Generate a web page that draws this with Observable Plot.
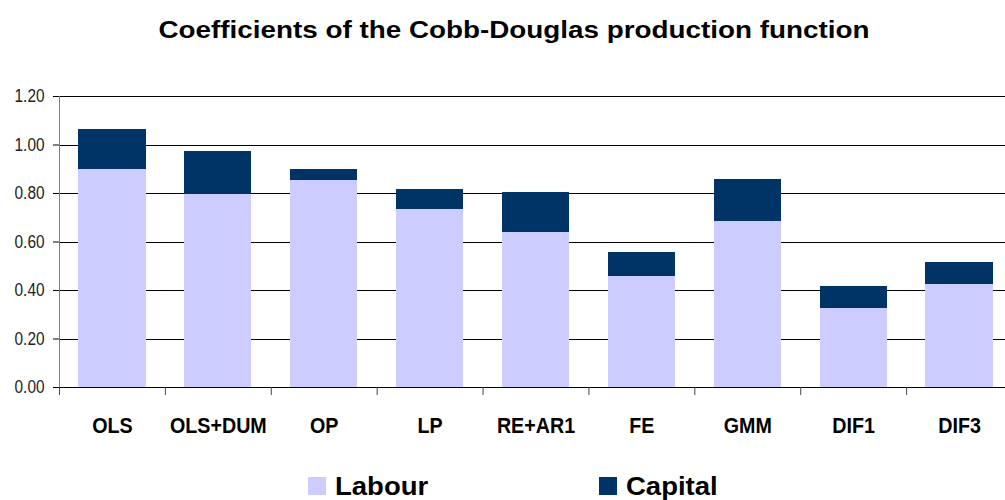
<!DOCTYPE html>
<html>
<head>
<meta charset="utf-8">
<script src="https://cdn.jsdelivr.net/npm/d3@7"></script>
<script src="https://cdn.jsdelivr.net/npm/@observablehq/plot@0.6"></script>
<style>
  html, body { margin: 0; padding: 0; background: #fff; overflow: hidden; }
  #wrap { position: relative; width: 1005px; height: 500px; font-family: "Liberation Sans", Arial, sans-serif; }
  #title { position: absolute; left: 514px; top: 19px; white-space: nowrap;
           transform: translateX(-50%) scaleX(1.21);
           font-weight: bold; font-size: 23px; line-height: 23px; color: #000; }
  #chart { position: absolute; left: 0; top: 55px; }
  .leg { position: absolute; font-weight: bold; font-size: 25px; line-height: 25px; color: #000;
         white-space: nowrap; transform: scaleX(1.1); transform-origin: left center; }
  .sw { position: absolute; width: 18px; height: 18px; }
</style>
</head>
<body>
<div id="wrap">
  <div id="title">Coefficients of the Cobb-Douglas production function</div>
  <div id="chart"></div>
  <div id="legend"></div>
</div>
<script>
const categories = ["OLS", "OLS+DUM", "OP", "LP", "RE+AR1", "FE", "GMM", "DIF1", "DIF3"];
const labour  = [0.900, 0.797, 0.854, 0.734, 0.639, 0.458, 0.685, 0.326, 0.425];
const capital = [0.165, 0.176, 0.045, 0.082, 0.165, 0.099, 0.173, 0.090, 0.090];
const series = ["Labour", "Capital"];
const seriesColors = ["#CCCCFF", "#003366"];
const yTicks = [0, 0.2, 0.4, 0.6, 0.8, 1.0, 1.2];

const data = [];
categories.forEach((c, i) => data.push({method: c, series: "Labour", value: labour[i]}));
categories.forEach((c, i) => data.push({method: c, series: "Capital", value: capital[i]}));

const xRange = [59, 1012];
const bw = d3.scaleBand().domain(categories).range(xRange).bandwidth();

const chart = Plot.plot({
  width: 1005,
  height: 400,
  marginTop: 41,
  marginBottom: 68,
  marginLeft: 59,
  marginRight: 0,
  style: {fontFamily: "'Liberation Sans', Arial, sans-serif", background: "transparent", color: "#000", overflow: "hidden"},
  x: {domain: categories, range: xRange, paddingInner: 0.365, paddingOuter: 0.1825, round: false, axis: null},
  y: {domain: [0, 1.2], axis: null},
  color: {domain: series, range: seriesColors},
  marks: [
    Plot.ruleY(yTicks, {stroke: "#000", strokeWidth: 1, shapeRendering: "crispEdges"}),
    Plot.barY(data, {x: "method", y: "value", fill: "series", shapeRendering: "crispEdges"}),
    Plot.ruleY([0], {stroke: "#000", strokeWidth: 1, shapeRendering: "crispEdges"}),
    Plot.axisY({ticks: yTicks, tickSize: 6, tickPadding: 9, tickFormat: d3.format(".2f"),
                fontSize: 17.5, fill: "#222", stroke: "#000", label: null}),
    Plot.ruleX([categories[0]], {dx: -bw / 2, y1: 1.2, y2: 0, insetBottom: -8, stroke: "#808080", shapeRendering: "crispEdges"}),
    Plot.axisX({tickSize: 8, tickFormat: () => "", dx: -bw / 2, stroke: "#444", label: null}),
    Plot.axisX({tickSize: 0, tickPadding: 30, fontSize: 22.5, fontWeight: "bold", fill: "#000", label: null})
  ]
});
document.getElementById("chart").appendChild(chart);

// horizontally compress axis tick labels to match the reference's narrow lettering
function squeeze(selector, factor) {
  chart.querySelectorAll(selector).forEach(t => {
    const len = t.getComputedTextLength();
    if (len > 0) {
      t.setAttribute("textLength", (len * factor).toFixed(2));
      t.setAttribute("lengthAdjust", "spacingAndGlyphs");
    }
  });
}
squeeze('g[aria-label="y-axis tick label"] text', 0.88);
squeeze('g[aria-label="x-axis tick label"] text', 0.875);

const legend = document.getElementById("legend");
const legPos = [{sw: 308, tx: 335}, {sw: 599, tx: 626}];
series.forEach((s, i) => {
  const sw = document.createElement("div");
  sw.className = "sw";
  sw.style.left = legPos[i].sw + "px";
  sw.style.top = "477px";
  sw.style.background = seriesColors[i];
  legend.appendChild(sw);
  const t = document.createElement("div");
  t.className = "leg";
  t.style.left = legPos[i].tx + "px";
  t.style.top = "474px";
  t.textContent = s;
  legend.appendChild(t);
});
</script>
</body>
</html>
